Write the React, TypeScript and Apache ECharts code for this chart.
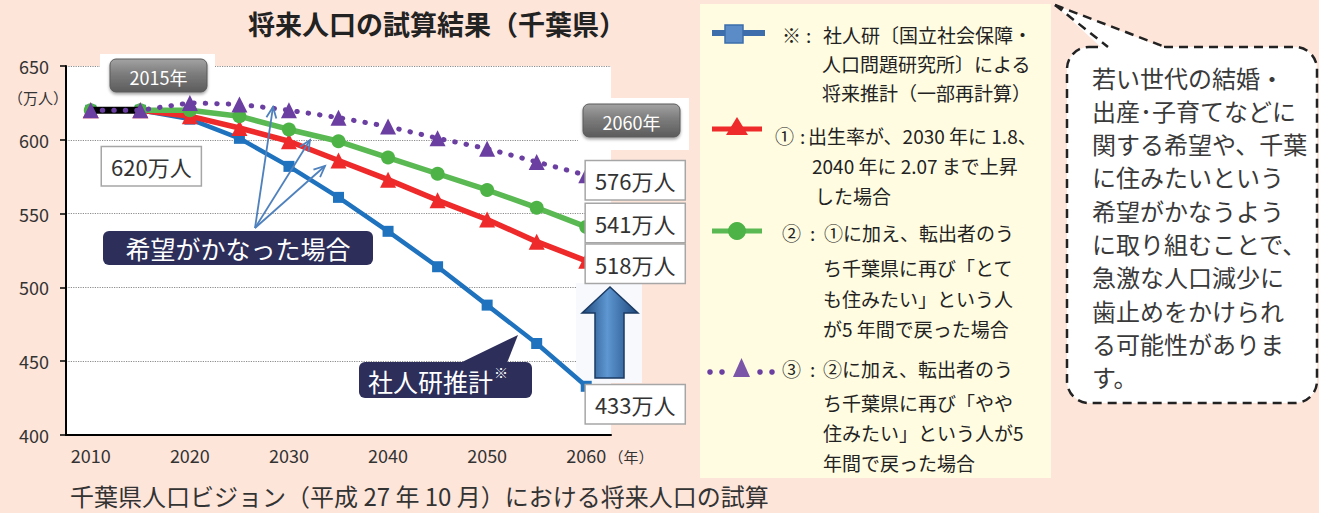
import React, { useEffect, useRef } from "react";
import * as echarts from "echarts";

// ---- data ----
const years = ["2010", "2015", "2020", "2025", "2030", "2035", "2040", "2045", "2050", "2055", "2060"];
const ipssValues = [620, 620, 614, 601, 582, 561, 538, 514, 488, 462, 433];
const scenario1Values = [620, 620, 616, 608, 599, 586, 573, 559, 546, 531, 518];
const scenario2Values = [620, 620, 620, 616, 607, 599, 588, 577, 566, 554, 541];
const scenario3Values = [620, 620, 625, 624, 620, 615, 609, 601, 594, 585, 576];
const actualValues: (number | null)[] = [620, 620, null, null, null, null, null, null, null, null, null];
const yMin = 400;
const yMax = 650;
const yStep = 50;

const FONT = '"Noto Sans CJK JP", "Noto Sans", sans-serif';

const COLORS = {
  blue: "#1F72BD",
  red: "#EE2A2A",
  green: "#5AB952",
  purple: "#6B3FA1",
  navy: "#2D2E5A",
};

const boxLabel = {
  show: true,
  position: "inside",
  formatter: "{c}万人",
  backgroundColor: "#fff",
  borderColor: "#a6a6a6",
  borderWidth: 1.5,
  padding: [8, 9, 8, 9],
  fontSize: 22,
  lineHeight: 22,
  color: "#333",
  fontFamily: FONT,
};

function withLabel(values: (number | null)[], idx: number, offset: number[]) {
  return values.map((v, i) =>
    i === idx ? { value: v, label: { ...boxLabel, offset } } : v
  );
}

function arrow(ox: number, oy: number, tx: number, ty: number, color: string) {
  const dx = tx - ox;
  const dy = ty - oy;
  const len = Math.hypot(dx, dy);
  const ux = dx / len;
  const uy = dy / len;
  const px = -uy;
  const py = ux;
  const hl = 11;
  const hw = 5;
  return [
    { type: "line", z: 50, shape: { x1: ox, y1: oy, x2: tx, y2: ty }, style: { stroke: color, lineWidth: 1.8 } },
    {
      type: "polyline",
      z: 50,
      shape: {
        points: [
          [tx - hl * ux + hw * px, ty - hl * uy + hw * py],
          [tx, ty],
          [tx - hl * ux - hw * px, ty - hl * uy - hw * py],
        ],
      },
      style: { stroke: color, lineWidth: 1.8, fill: null },
    },
  ];
}

function txt(text: string, x: number, y: number, size: number, extra: any = {}) {
  return {
    type: "text",
    x,
    y,
    z: 60,
    style: {
      text,
      fontSize: size,
      fontFamily: FONT,
      fill: "#222",
      align: "left",
      verticalAlign: "middle",
      ...extra,
    },
  };
}

function grayTag(x: number, y: number, w: number, h: number, text: string) {
  return [
    {
      type: "rect",
      z: 55,
      shape: { x, y, width: w, height: h, r: 6 },
      style: {
        fill: new echarts.graphic.LinearGradient(0, 0, 0, 1, [
          { offset: 0, color: "#a3a3a3" },
          { offset: 0.45, color: "#7c7c7c" },
          { offset: 1, color: "#5c5c5c" },
        ]),
        stroke: "#5a5a5a",
        lineWidth: 1,
        shadowBlur: 3,
        shadowOffsetY: 2,
        shadowColor: "rgba(0,0,0,0.35)",
      },
    },
    txt(text, x + w / 2, y + h / 2 + 1, 18, { fill: "#fff", align: "center" }),
  ];
}

const calloutLines = [
  "若い世代の結婚・",
  "出産･子育てなどに",
  "関する希望や、千葉",
  "に住みたいという",
  "希望がかなうよう",
  "に取り組むことで、",
  "急激な人口減少に",
  "歯止めをかけられ",
  "る可能性がありま",
  "す。",
];

const legendFont = 19;

const graphics: any[] = [
  // legend panel
  { type: "rect", z: 1, shape: { x: 700, y: 4, width: 351, height: 474 }, style: { fill: "#FFFCE1" } },
  // white patches behind tags
  { type: "rect", z: 1, shape: { x: 100, y: 54, width: 115, height: 14 }, style: { fill: "#fff" } },
  { type: "rect", z: 1, shape: { x: 578, y: 98, width: 111, height: 52 }, style: { fill: "#fff" } },
  { type: "rect", z: 1, shape: { x: 576, y: 283, width: 66, height: 100 }, style: { fill: "#F7F9FC" } },
  // texts around axes
  txt("（万人）", 38, 97, 15, { align: "center", fill: "#333" }),
  txt("（年）", 631, 456, 15, { align: "center", fill: "#333" }),
  txt("千葉県人口ビジョン（平成 27 年 10 月）における将来人口の試算", 70, 495, 24, { fill: "#333" }),
  // tags
  ...grayTag(110, 59, 97, 33, "2015年"),
  ...grayTag(583, 104, 97, 33, "2060年"),
  // big blue arrow
  {
    type: "polygon",
    z: 50,
    shape: {
      points: [
        [582, 313], [610, 287], [638, 313], [624, 313], [624, 378], [595, 378], [595, 313],
      ],
    },
    style: {
      fill: new echarts.graphic.LinearGradient(0, 0, 1, 0, [
        { offset: 0, color: "#1E477A" },
        { offset: 0.45, color: "#5E97D2" },
        { offset: 1, color: "#1E477A" },
      ]),
      stroke: "#1B3A63",
      lineWidth: 1.5,
    },
  },
  // pointer arrows
  ...arrow(255, 228, 273, 107, "#4F81BD"),
  ...arrow(255, 228, 310, 140, "#4F81BD"),
  ...arrow(255, 228, 325, 166, "#4F81BD"),
  // navy label 1
  { type: "rect", z: 52, shape: { x: 103, y: 231, width: 270, height: 34, r: 6 }, style: { fill: COLORS.navy } },
  txt("希望がかなった場合", 238, 248, 25, { fill: "#fff", align: "center" }),
  // navy callout 2
  { type: "polygon", z: 52, shape: { points: [[460, 363], [518, 335], [507, 363]] }, style: { fill: COLORS.navy } },
  { type: "rect", z: 52, shape: { x: 359, y: 362, width: 173, height: 36, r: 6 }, style: { fill: COLORS.navy } },
  txt("社人研推計", 368, 381, 25, { fill: "#fff" }),
  txt("※", 494, 372, 14, { fill: "#fff" }),
  // speech bubble
  {
    type: "rect",
    z: 40,
    shape: { x: 1067, y: 47, width: 250, height: 356, r: 22 },
    style: { fill: "#fff", stroke: "#222", lineWidth: 2.5, lineDash: [9, 6] },
  },
  { type: "polygon", z: 41, shape: { points: [[1104, 50], [1055, 5], [1169, 50]] }, style: { fill: "#fff" } },
  { type: "line", z: 42, shape: { x1: 1055, y1: 5, x2: 1108, y2: 47 }, style: { stroke: "#222", lineWidth: 2.5, lineDash: [9, 6] } },
  { type: "line", z: 42, shape: { x1: 1055, y1: 5, x2: 1165, y2: 47 }, style: { stroke: "#222", lineWidth: 2.5, lineDash: [9, 6] } },
  ...calloutLines.map((l, i) => txt(l, 1092, 77 + i * 33.3, 24, { fill: "#3a3a3a" })),
  // legend: blue
  { type: "line", z: 20, shape: { x1: 712, y1: 33, x2: 765, y2: 33 }, style: { stroke: "#3D6DAA", lineWidth: 6 } },
  { type: "rect", z: 21, shape: { x: 725, y: 25, width: 18, height: 18 }, style: { fill: "#5B8CC8", stroke: "#3D6DAA", lineWidth: 1.5 } },
  txt("※", 782, 34, legendFont),
  txt(":", 806, 34, legendFont),
  txt("社人研〔国立社会保障・", 823, 34, legendFont),
  txt("人口問題研究所〕による", 822, 63, legendFont),
  txt("将来推計（一部再計算）", 822, 92, legendFont),
  // legend: red
  { type: "line", z: 20, shape: { x1: 712, y1: 129, x2: 762, y2: 129 }, style: { stroke: COLORS.red, lineWidth: 5 } },
  { type: "polygon", z: 21, shape: { points: [[737, 117], [726, 135], [748, 135]] }, style: { fill: COLORS.red } },
  txt("①", 775, 135, legendFont),
  txt(":", 800, 135, legendFont),
  txt("出生率が、2030 年に 1.8、", 808, 135, legendFont),
  txt("2040 年に 2.07 まで上昇", 812, 165, legendFont),
  txt("した場合", 815, 195, legendFont),
  // legend: green
  { type: "line", z: 20, shape: { x1: 712, y1: 231, x2: 762, y2: 231 }, style: { stroke: COLORS.green, lineWidth: 5 } },
  { type: "circle", z: 21, shape: { cx: 737, cy: 231, r: 9 }, style: { fill: "#4DB347" } },
  txt("②", 782, 232, legendFont),
  txt(":", 810, 232, legendFont),
  txt("①に加え、転出者のう", 824, 232, legendFont),
  txt("ち千葉県に再び「とて", 823, 267, legendFont),
  txt("も住みたい」という人", 823, 298, legendFont),
  txt("が5 年間で戻った場合", 823, 328, legendFont),
  // legend: purple
  ...[710, 722, 760, 772].map((x) => ({ type: "circle", z: 21, shape: { cx: x, cy: 372, r: 2.8 }, style: { fill: COLORS.purple } })),
  { type: "polygon", z: 21, shape: { points: [[741.5, 358], [733, 377], [750, 377]] }, style: { fill: "#7A55A8" } },
  txt("③", 782, 368, legendFont),
  txt(":", 810, 368, legendFont),
  txt("②に加え、転出者のう", 823, 368, legendFont),
  txt("ち千葉県に再び「やや", 823, 402, legendFont),
  txt("住みたい」という人が5", 823, 432, legendFont),
  txt("年間で戻った場合", 823, 462, legendFont),
];

const last = years.length - 1;

const option: any = {
  animation: false,
  backgroundColor: "#FDE5DA",
  textStyle: { fontFamily: FONT },
  title: {
    text: "将来人口の試算結果（千葉県）",
    left: 243,
    top: 5,
    textStyle: { fontSize: 27, fontWeight: "bold", color: "#222", fontFamily: FONT },
  },
  grid: {
    left: 66,
    right: 708,
    top: 66,
    bottom: 78,
    show: true,
    backgroundColor: "#fff",
    borderWidth: 0,
  },
  xAxis: {
    type: "category",
    data: years,
    boundaryGap: true,
    axisLine: { show: true, lineStyle: { color: "#000", width: 2 } },
    axisTick: { show: false },
    axisLabel: { interval: 1, fontSize: 18, color: "#333", margin: 11 },
    splitLine: { show: false },
  },
  yAxis: {
    type: "value",
    min: yMin,
    max: yMax,
    interval: yStep,
    axisLine: { show: true, lineStyle: { color: "#000", width: 2 } },
    axisTick: { show: true, length: 6, lineStyle: { color: "#000", width: 1.5 } },
    axisLabel: { fontSize: 18, color: "#333", margin: 17 },
    splitLine: { show: true, lineStyle: { type: "dotted", color: "#8c8c8c", width: 1.2 } },
  },
  series: [
    {
      name: "社人研推計",
      type: "line",
      data: withLabel(ipssValues, last, [49, 18]),
      color: COLORS.blue,
      lineStyle: { width: 4.5, color: COLORS.blue },
      itemStyle: { color: COLORS.blue },
      symbol: "rect",
      symbolSize: 11,
      z: 2,
    },
    {
      name: "①",
      type: "line",
      data: withLabel(scenario1Values, last, [49, 3]),
      color: COLORS.red,
      lineStyle: { width: 5.5, color: COLORS.red },
      itemStyle: { color: COLORS.red },
      symbol: "triangle",
      symbolSize: 16,
      z: 3,
    },
    {
      name: "②",
      type: "line",
      data: withLabel(scenario2Values, last, [49, -4]),
      color: COLORS.green,
      lineStyle: { width: 5.5, color: COLORS.green },
      itemStyle: { color: "#4DB347" },
      symbol: "circle",
      symbolSize: 14,
      z: 4,
    },
    {
      name: "実績",
      type: "line",
      data: withLabel(actualValues, 1, [11, 56]),
      color: "#000",
      lineStyle: { width: 7, color: "#000" },
      itemStyle: { color: "#000" },
      symbol: "circle",
      symbolSize: 2,
      showSymbol: true,
      z: 5,
    },
    {
      name: "③",
      type: "line",
      data: withLabel(scenario3Values, last, [49, 5]),
      color: COLORS.purple,
      lineStyle: { width: 5, color: COLORS.purple, type: [0.5, 11], cap: "round" },
      itemStyle: { color: COLORS.purple },
      symbol: "triangle",
      symbolSize: 16,
      z: 6,
    },
  ],
  graphic: { elements: graphics },
};

export default function App() {
  const ref = useRef<HTMLDivElement>(null);
  useEffect(() => {
    const chart = echarts.init(ref.current!, null, { renderer: "svg" });
    chart.setOption(option);
    return () => chart.dispose();
  }, []);
  return (
    <div
      ref={ref}
      style={{ position: "absolute", left: 0, top: 0, width: 1319, height: 513 }}
    />
  );
}
